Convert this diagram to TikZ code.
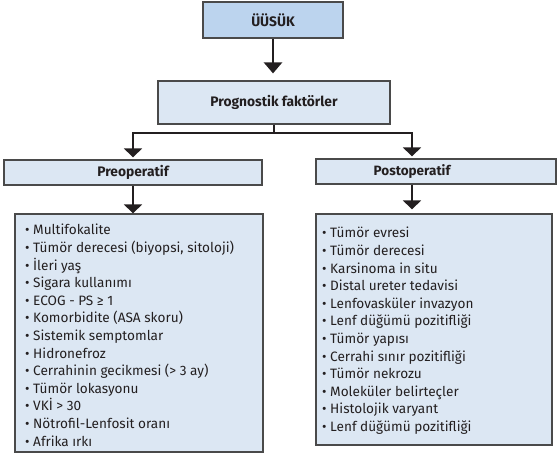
\documentclass[tikz,border=0pt]{standalone}
\usepackage{fontspec}
\setmainfont{Fira Sans}
\usetikzlibrary{arrows.meta}

\definecolor{boxdark}{HTML}{BCD4EE}
\definecolor{boxlight}{HTML}{DCE7F3}
\definecolor{edgegray}{HTML}{4A4A4A}
\definecolor{ink}{HTML}{231F20}

\tikzset{
  panel/.style={draw=edgegray, line width=1.2pt, inner sep=0pt},
  titlebox/.style={panel, fill=boxlight, font=\bfseries\fontsize{13.8}{16}\selectfont, text=ink},
  headtext/.style={inner sep=0pt, font=\bfseries\fontsize{13.5}{16}\selectfont, text=ink},
  listbox/.style={panel, fill=boxlight},
  listtext/.style={anchor=north west, inner sep=0pt, align=left, text=ink,
    font=\fontsize{13.6}{17.6}\selectfont},
  mainarrow/.style={draw=ink, line width=2.6pt, -{Triangle[width=18pt,length=11pt]}},
  brancharrow/.style={draw=ink, line width=1.6pt, -{Triangle[width=18pt,length=9pt]}},
}

\begin{document}
\begin{tikzpicture}[x=1pt, y=-1pt]
  \useasboundingbox (0,0) rectangle (559,456);

  % top level
  \node[titlebox, fill=boxdark, minimum width=140pt, minimum height=36pt] (root) at (273,20) {ÜÜSÜK};
  \node[titlebox, minimum width=232pt, minimum height=43pt] (prog) at (274,102.5) {Prognostik faktörler};

  % the two branches
  \node[titlebox, minimum width=258pt, minimum height=25pt] (pre) at (133,172.5) {Preoperatif};
  \node[panel, fill=boxlight, minimum width=240pt, minimum height=25pt] (post) at (436,171.5) {};
  \node[headtext] (posthead) at (412,172) {Postoperatif};

  % factor lists
  \node[listbox, minimum width=248pt, minimum height=238pt] (prelist) at (139,333) {};
  \node[listbox, minimum width=236pt, minimum height=231pt] (postlist) at (434,329.5) {};

  \node[listtext] (pretext) at (25,224) {%
    • Multifokalite\\
    • Tümör derecesi (biyopsi, sitoloji)\\
    • İleri yaş\\
    • Sigara kullanımı\\
    • ECOG - PS ≥ 1\\
    • Komorbidite (ASA skoru)\\
    • Sistemik semptomlar\\
    • Hidronefroz\\
    • Cerrahinin gecikmesi (> 3 ay)\\
    • Tümör lokasyonu\\
    • VKİ > 30\\
    • Nötrofil-Lenfosit oranı\\
    • Afrika ırkı};

  \node[listtext] (posttext) at (322,227) {%
    • Tümör evresi\\
    • Tümör derecesi\\
    • Karsinoma in situ\\
    • Distal ureter tedavisi\\
    • Lenfovasküler invazyon\\
    • Lenf düğümü pozitifliği\\
    • Tümör yapısı\\
    • Cerrahi sınır pozitifliği\\
    • Tümör nekrozu\\
    • Moleküler belirteçler\\
    • Histolojik varyant\\
    • Lenf düğümü pozitifliği};

  % connectors
  \coordinate (split) at (274,133);
  \draw[mainarrow, shorten >=7pt] (root.south) -- (root.south |- prog.north);
  \draw[draw=ink, line width=1.6pt] (prog.south) -- (split);
  \draw[brancharrow, shorten >=2pt] (split) -| (pre.north);
  \draw[brancharrow, shorten >=2pt] (split) -| (posthead.center |- post.north);
  \draw[brancharrow] (pre.south) -- (pre.south |- prelist.north);
  \draw[brancharrow, shorten >=4pt] (posthead.center |- post.south) -- (posthead.center |- postlist.north);
\end{tikzpicture}
\end{document}
